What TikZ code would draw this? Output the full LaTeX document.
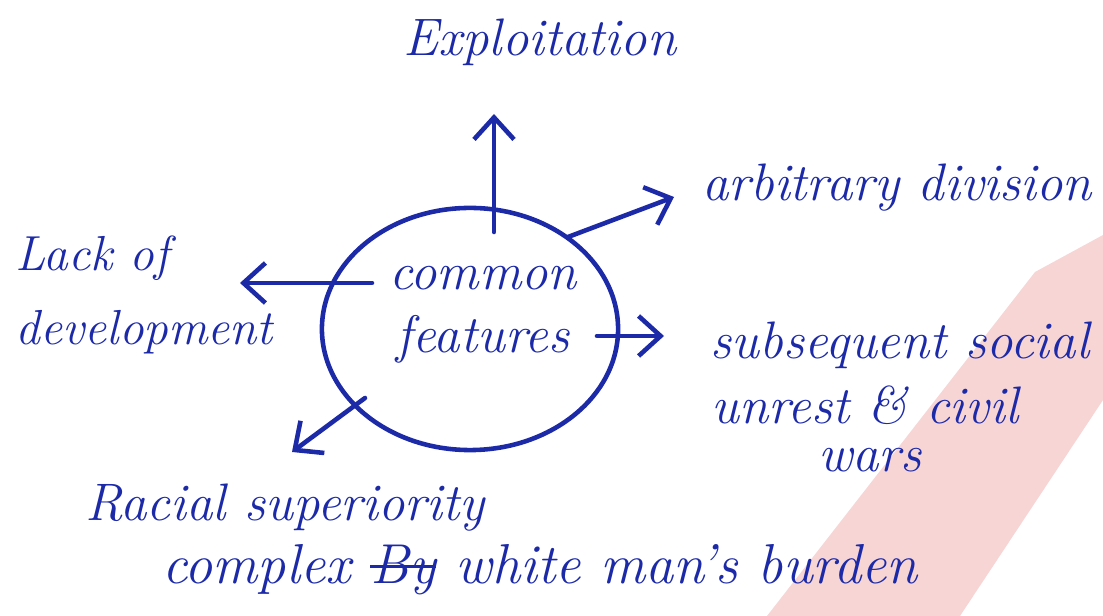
\documentclass[tikz,border=0pt]{standalone}
\usetikzlibrary{arrows.meta, shapes.geometric}

\definecolor{inkblue}{RGB}{28,42,168}
\definecolor{stampred}{RGB}{236,150,150}

\newcommand{\crossout}[1]{\setbox0=\hbox{#1}\rlap{\raisebox{0.28em}{\rule{\wd0}{0.9pt}}}\box0\relax}

\tikzset{
  scrawl/.style={text=inkblue, font=\fontsize{15}{16}\selectfont\itshape, inner sep=0pt, align=center},
  hubring/.style={draw=inkblue, line width=1.3pt, ellipse, minimum width=2.96cm, minimum height=2.42cm},
  inkarrow/.style={draw=inkblue, line width=1.3pt, line cap=round, -{Straight Barb[length=2.2mm, width=4mm]}}
}

\begin{document}
\begin{tikzpicture}[x=0.01cm, y=-0.01cm]
	\useasboundingbox (0,0) rectangle (1103,616);

	% faint stamp in the corner
	\fill[stampred, opacity=0.4] (767,616) -- (1035,272) -- (1103,235) -- (1103,400) -- (960,616) -- cycle;

	\begin{scope}
		\node[hubring] (hub) at (470,329) {};
		\node[scrawl] (core) at (483,315) {common\\[2pt]features};
	\end{scope}

	\begin{scope}
		\node[scrawl] (explo) at (540,42) {Exploitation};
		\node[scrawl] (arbit) at (897,188) {arbitrary division};
		\node[scrawl, align=left, anchor=west, font=\fontsize{14}{15}\selectfont\itshape] (lack) at (15,295) {Lack of\\[6pt]development};
		\node[scrawl] (unrest1) at (900,345) {subsequent social};
		\node[scrawl] (unrest2) at (865,405) {unrest \& civil};
		\node[scrawl] (unrest3) at (870,460) {wars};
		\node[scrawl] (racial1) at (285,508) {Racial superiority};
		\node[scrawl, font=\fontsize{16}{17}\selectfont\itshape] (racial2) at (540,570) {complex \crossout{By} white man's burden};
	\end{scope}

	% arrow ends
	\coordinate (upfrom) at (494,232);
	\coordinate (upto) at (494,114);
	\coordinate (nefrom) at (568,237);
	\coordinate (neto) at (674,197);
	\coordinate (wfrom) at (372,283);
	\coordinate (wto) at (240,283);
	\coordinate (efrom) at (597,336);
	\coordinate (eto) at (664,336);
	\coordinate (swfrom) at (365,398);
	\coordinate (swto) at (292,452);

	\begin{scope}[inkarrow]
		\draw (upfrom) -- (upto);
		\draw (nefrom) -- (neto);
		\draw (wfrom) -- (wto);
		\draw (efrom) -- (eto);
		\draw (swfrom) -- (swto);
	\end{scope}
\end{tikzpicture}
\end{document}
